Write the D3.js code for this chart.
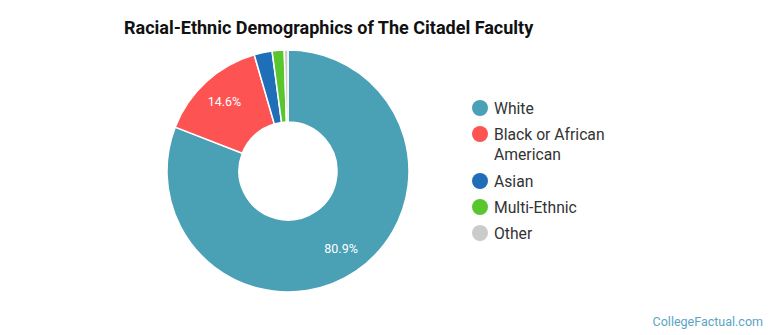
<!DOCTYPE html>
<html>
<head>
<meta charset="utf-8">
<script src="https://cdn.jsdelivr.net/npm/d3@7"></script>
<style>
  body { margin: 0; background: #fff; }
  svg { display: block; font-family: Roboto, "Open Sans", sans-serif; }
</style>
</head>
<body>
<div id="chart"></div>
<script>
// chart data
var categories = ['White', 'Black or African American', 'Asian', 'Multi-Ethnic', 'Other'];
var legendLines = [['White'], ['Black or African', 'American'], ['Asian'], ['Multi-Ethnic'], ['Other']];
var values = [80.9, 14.6, 2.4, 1.6, 0.5];
var colors = ['#4aa0b5', '#fd5353', '#1f6eb8', '#5ac62e', '#cbcbcb'];
var titleText = 'Racial-Ethnic Demographics of The Citadel Faculty';

var width = 770, height = 335;
var cx = 288, cy = 171, outerR = 121, innerR = 49;

var svg = d3.select('#chart').append('svg')
    .attr('width', width)
    .attr('height', height);

svg.append('text')
    .attr('x', 124)
    .attr('y', 34)
    .attr('font-size', 18)
    .attr('font-weight', 'bold')
    .attr('fill', '#111')
    .text(titleText);

var data = categories.map(function (c, i) {
    return {name: c, value: values[i], color: colors[i]};
});

var pie = d3.pie().sort(null).value(function (d) { return d.value; });
var arc = d3.arc().innerRadius(innerR).outerRadius(outerR);
var labelArc = d3.arc().innerRadius(94).outerRadius(94);

var g = svg.append('g').attr('transform', 'translate(' + cx + ',' + cy + ')');

var slices = g.selectAll('.slice').data(pie(data)).enter().append('g').attr('class', 'slice');

slices.append('path')
    .attr('d', arc)
    .attr('fill', function (d) { return d.data.color; })
    .attr('stroke', '#fff')
    .attr('stroke-width', 1.5);

// only the big slices get a label
slices.filter(function (d) { return d.data.value > 10; })
    .append('text')
    .attr('transform', function (d) { return 'translate(' + labelArc.centroid(d) + ')'; })
    .attr('text-anchor', 'middle')
    .attr('dy', '0.35em')
    .attr('font-size', 12.5)
    .attr('fill', '#fff')
    .text(function (d) { return d.data.value.toFixed(1) + '%'; });

// legend
var legendY = [108, 134, 181, 207, 233];
var legend = svg.append('g').selectAll('.item').data(data).enter().append('g')
    .attr('class', 'item')
    .attr('transform', function (d, i) { return 'translate(480,' + legendY[i] + ')'; });

legend.append('circle')
    .attr('r', 8)
    .attr('fill', function (d) { return d.color; });

legend.append('text')
    .attr('x', 14)
    .attr('font-size', 15.7)
    .attr('fill', '#333')
    .each(function (d, i) {
        var t = d3.select(this);
        legendLines[i].forEach(function (line, j) {
            t.append('tspan')
                .attr('x', 14)
                .attr('y', j * 21)
                .attr('dy', '0.35em')
                .text(line);
        });
    });

svg.append('text')
    .attr('x', 763)
    .attr('y', 326)
    .attr('text-anchor', 'end')
    .attr('font-size', 12.5)
    .attr('fill', '#5aa5c2')
    .text('CollegeFactual.com');
</script>
</body>
</html>
